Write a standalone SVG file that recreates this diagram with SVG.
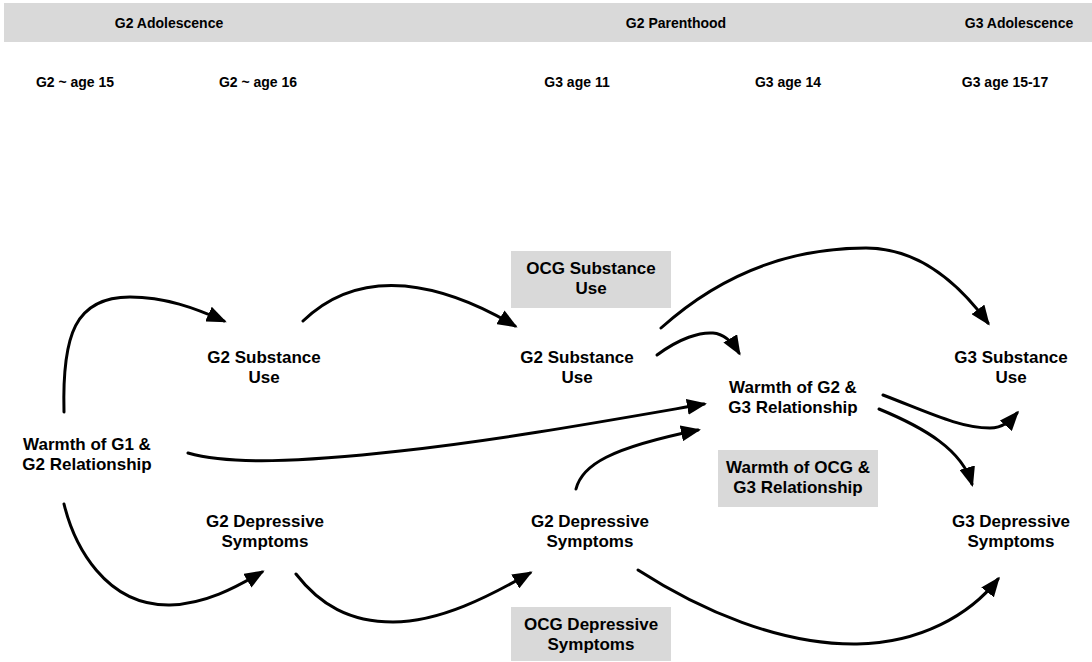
<svg xmlns="http://www.w3.org/2000/svg" width="1092" height="662" viewBox="0 0 1092 662">
<style>
  .hdr { font-family: "Liberation Sans", Arial, sans-serif; font-size: 14px; font-weight: bold; fill: #000; text-anchor: middle; }
  .lbl { font-family: "Liberation Sans", Arial, sans-serif; font-size: 17px; font-weight: bold; fill: #000; text-anchor: middle; }
  .box { fill: #d9d9d9; stroke: none; }
  .edge { fill: none; stroke: #000; stroke-width: 3; stroke-linecap: round; }
</style>
<defs>
  <marker id="arrow" markerUnits="userSpaceOnUse" markerWidth="20" markerHeight="16" viewBox="0 0 20 16" refX="17" refY="8" orient="auto">
    <path d="M0,0 L20,8 L0,16 z" fill="#000"/>
  </marker>
</defs>
<rect width="1092" height="662" fill="#fff"/>
<g id="header">
  <rect class="box" x="4" y="3" width="1088" height="39"/>
  <text class="hdr" x="169" y="28">G2 Adolescence</text>
  <text class="hdr" x="676" y="28">G2 Parenthood</text>
  <text class="hdr" x="1019" y="28">G3 Adolescence</text>
  <text class="hdr" x="75" y="87">G2 ~ age 15</text>
  <text class="hdr" x="258" y="87">G2 ~ age 16</text>
  <text class="hdr" x="577" y="87">G3 age 11</text>
  <text class="hdr" x="788" y="87">G3 age 14</text>
  <text class="hdr" x="1005" y="87">G3 age 15-17</text>
</g>
<g id="connectors">
  <path class="edge" marker-end="url(#arrow)" d="M64,412 C62,335 75,297 130,297 C165,297 195,308 224,321"/>
  <path class="edge" marker-end="url(#arrow)" d="M303,321 C335,290 370,283 405,286 C445,290 480,305 515,326"/>
  <path class="edge" marker-end="url(#arrow)" d="M188,453 C230,465 300,462 400,451 C500,440 600,422 704,404"/>
  <path class="edge" marker-end="url(#arrow)" d="M661,328 C720,275 790,248 866,248 C920,248 960,285 988,323"/>
  <path class="edge" marker-end="url(#arrow)" d="M657,355 C680,338 700,332 713,333 C725,334 733,343 739,353"/>
  <path class="edge" marker-end="url(#arrow)" d="M576,489 C582,465 610,448 698,430"/>
  <path class="edge" marker-end="url(#arrow)" d="M883,395 C930,413 960,428 990,428 C1003,428 1010,421 1017,413"/>
  <path class="edge" marker-end="url(#arrow)" d="M879,409 C925,428 962,450 972,484"/>
  <path class="edge" marker-end="url(#arrow)" d="M64,504 C74,545 105,606 170,605 C205,604 235,588 262,572"/>
  <path class="edge" marker-end="url(#arrow)" d="M296,574 C320,605 350,622 393,622 C440,622 490,596 530,573"/>
  <path class="edge" marker-end="url(#arrow)" d="M638,570 C700,610 780,645 857,644 C920,643 970,615 998,579"/>
</g>
<g id="n-g1g2-warmth">
  <text class="lbl" x="87" y="450">Warmth of G1 &amp;</text>
  <text class="lbl" x="87" y="470">G2 Relationship</text>
</g>
<g id="n-g2-su-16">
  <text class="lbl" x="264" y="363">G2 Substance</text>
  <text class="lbl" x="264" y="383">Use</text>
</g>
<g id="n-g2-dep-16">
  <text class="lbl" x="265" y="527">G2 Depressive</text>
  <text class="lbl" x="265" y="547">Symptoms</text>
</g>
<g id="n-ocg-su">
  <rect class="box" x="511" y="251" width="160" height="57"/>
  <text class="lbl" x="591" y="274">OCG Substance</text>
  <text class="lbl" x="591" y="294">Use</text>
</g>
<g id="n-g2-su-11">
  <text class="lbl" x="577" y="363">G2 Substance</text>
  <text class="lbl" x="577" y="383">Use</text>
</g>
<g id="n-g2-dep-11">
  <text class="lbl" x="590" y="527">G2 Depressive</text>
  <text class="lbl" x="590" y="547">Symptoms</text>
</g>
<g id="n-ocg-dep">
  <rect class="box" x="511" y="607" width="160" height="54"/>
  <text class="lbl" x="591" y="630">OCG Depressive</text>
  <text class="lbl" x="591" y="650">Symptoms</text>
</g>
<g id="n-g2g3-warmth">
  <text class="lbl" x="793" y="393">Warmth of G2 &amp;</text>
  <text class="lbl" x="793" y="413">G3 Relationship</text>
</g>
<g id="n-ocgg3-warmth">
  <rect class="box" x="718" y="450" width="160" height="57"/>
  <text class="lbl" x="798" y="473">Warmth of OCG &amp;</text>
  <text class="lbl" x="798" y="493">G3 Relationship</text>
</g>
<g id="n-g3-su">
  <text class="lbl" x="1011" y="363">G3 Substance</text>
  <text class="lbl" x="1011" y="383">Use</text>
</g>
<g id="n-g3-dep">
  <text class="lbl" x="1011" y="527">G3 Depressive</text>
  <text class="lbl" x="1011" y="547">Symptoms</text>
</g>
</svg>
